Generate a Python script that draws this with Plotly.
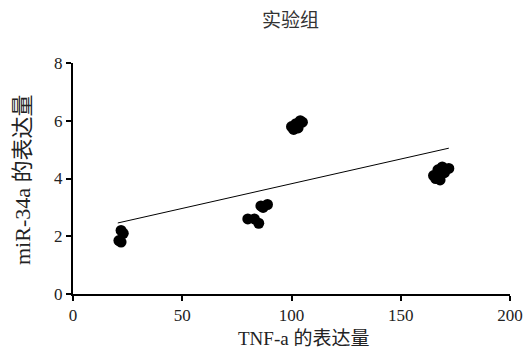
import plotly.graph_objects as go

# Data
tnf = [21, 22, 22, 23,
       80, 83, 85, 86, 87, 89,
       100, 101, 102, 103, 104, 105,
       165, 166, 167, 168, 169, 170, 172]
mir = [1.85, 2.2, 1.8, 2.1,
       2.6, 2.6, 2.45, 3.05, 3.0, 3.1,
       5.8, 5.7, 5.9, 5.75, 6.0, 5.95,
       4.1, 4.0, 4.3, 3.95, 4.4, 4.2, 4.35]
trend_x = [20.5, 172]
trend_y = [2.46, 5.05]
x_ticks = [0, 50, 100, 150, 200]
y_ticks = [0, 2, 4, 6, 8]

title_text = "实验组"
x_title = "TNF-a 的表达量"
y_title = "miR-34a 的表达量"

FONT = "Liberation Serif, Noto Sans CJK SC, serif"
W, H = 527, 348
L, R, T, B = 73, 17, 63, 54

fig = go.Figure()
fig.add_trace(go.Scatter(x=tnf, y=mir, mode="markers",
                         marker=dict(color="black", size=11, line=dict(width=0)),
                         showlegend=False, cliponaxis=False))
fig.add_trace(go.Scatter(x=trend_x, y=trend_y, mode="lines",
                         line=dict(color="black", width=1), showlegend=False))

axis_common = dict(showline=True, linecolor="black", linewidth=2,
                   ticks="outside", tickcolor="black", tickwidth=2, ticklen=5,
                   showgrid=False, zeroline=False, automargin=False,
                   tickfont=dict(family=FONT, size=17, color="#222"))

fig.update_layout(
    width=W, height=H,
    margin=dict(l=L, r=R, t=T, b=B, autoexpand=False),
    paper_bgcolor="white", plot_bgcolor="white",
    xaxis=dict(range=[0, 200], tickvals=x_ticks, ticktext=[str(v) for v in x_ticks],
               **axis_common),
    yaxis=dict(range=[0, 8], tickvals=y_ticks, ticktext=[str(v) for v in y_ticks],
               **axis_common),
    annotations=[
        dict(text=title_text, xref="paper", yref="paper", x=(290 - L) / (W - L - R),
             y=(H - B - 21) / (H - T - B), xanchor="center", yanchor="middle",
             showarrow=False, font=dict(family=FONT, size=19, color="#333")),
        dict(text=x_title, xref="paper", yref="paper", x=(303 - L) / (W - L - R),
             y=(H - B - 338) / (H - T - B), xanchor="center", yanchor="middle",
             showarrow=False, font=dict(family=FONT, size=19, color="#222")),
        dict(text=y_title, xref="paper", yref="paper", x=(22 - L) / (W - L - R),
             y=(H - B - 180) / (H - T - B), xanchor="center", yanchor="middle",
             textangle=-90, showarrow=False, font=dict(family=FONT, size=22, color="#222")),
    ],
)

fig.write_html("out.html", config={"displayModeBar": False},
               post_script="document.body.style.margin='0';document.body.style.padding='0';")
